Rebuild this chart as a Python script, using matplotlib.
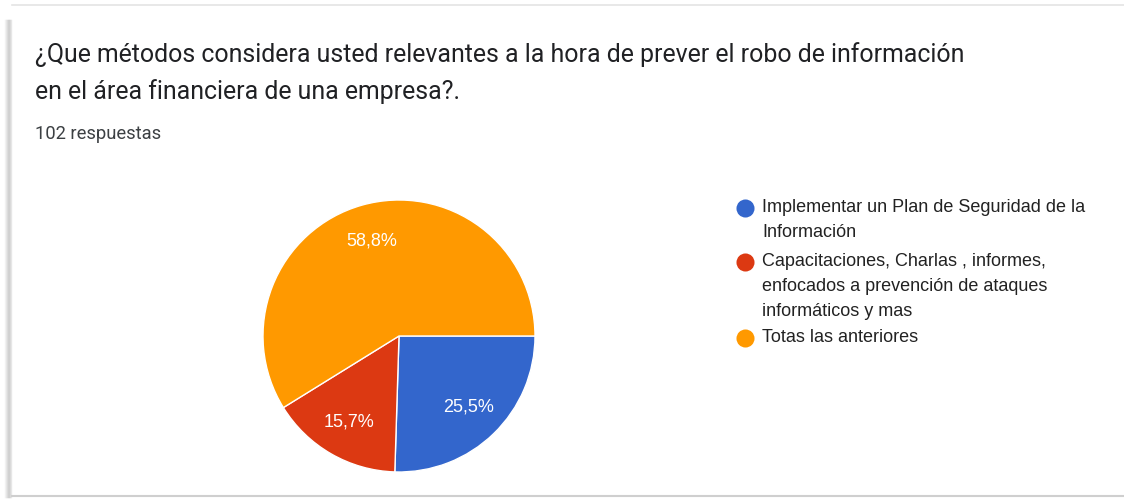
import matplotlib
matplotlib.use("Agg")
import matplotlib.pyplot as plt
from matplotlib.lines import Line2D

# ---- data ----
title_lines = ["¿Que métodos considera usted relevantes a la hora de prever el robo de información",
               "en el área financiera de una empresa?."]
subtitle = "102 respuestas"
categories = ["Implementar un Plan de Seguridad de la\nInformación",
              "Capacitaciones, Charlas , informes,\nenfocados a prevención de ataques\ninformáticos y mas",
              "Totas las anteriores"]
counts = [26, 16, 60]
pct_labels = ["25,5%", "15,7%", "58,8%"]
colors = ["#3366cc", "#dc3912", "#ff9900"]

W, H = 1124, 499
fig = plt.figure(figsize=(W / 100, H / 100), dpi=100)
fig.patch.set_facecolor("white")

def fx(px):
    return px / W

def fy(py):
    return 1 - py / H

# card border / shadow
for i, c in enumerate(["#f4f4f4", "#e9e9e9", "#dedede", "#d2d2d2", "#cfcfcf", "#d8d8d8", "#e6e6e6"]):
    fig.add_artist(Line2D([fx(5 + i), fx(5 + i)], [fy(20), fy(497)], color=c, lw=1.0,
                          transform=fig.transFigure))
fig.add_artist(Line2D([fx(12), fx(1124)], [fy(5), fy(5)], color="#e4e4e4", lw=1.2,
                      transform=fig.transFigure))
fig.add_artist(Line2D([fx(12), fx(1124)], [fy(496), fy(496)], color="#cfcfcf", lw=1.5,
                      transform=fig.transFigure))

# title
fig.text(fx(35), fy(62), title_lines[0], fontsize=17.9, family="Roboto", color="#202124", va="baseline")
fig.text(fx(35), fy(99), title_lines[1], fontsize=17.9, family="Roboto", color="#202124", va="baseline")
fig.text(fx(35), fy(139), subtitle, fontsize=13.2, family="Roboto", color="#3c4043", va="baseline")

# pie
cx, cy, r = 399, 336, 136
ax = fig.add_axes([fx(cx - r), fy(cy + r), (2 * r) / W, (2 * r) / H])
wedges, texts = ax.pie(counts, colors=colors, startangle=0, counterclock=False,
                       labels=pct_labels, labeldistance=0.73,
                       wedgeprops=dict(edgecolor="white", linewidth=1.0),
                       textprops=dict(color="white", fontsize=13, family="Liberation Sans"))
for t in texts:
    t.set_ha("center")
    t.set_va("center")
ax.set_xlim(-1, 1)
ax.set_ylim(-1, 1)
ax.set_aspect("equal")
ax.axis("off")

# legend (manual, marker aligned with first line)
leg_x_marker, leg_x_text = 745, 762
leg_y = [208, 262, 338]
line_h = 24.5
for w, lab, y in zip(wedges, categories, leg_y):
    fig.add_artist(Line2D([fx(leg_x_marker)], [fy(y)], marker="o", markersize=13,
                          markerfacecolor=w.get_facecolor(), markeredgecolor="none",
                          linestyle="none", transform=fig.transFigure))
    for k, line in enumerate(lab.split("\n")):
        fig.text(fx(leg_x_text), fy(y + k * line_h), line, fontsize=13, family="Liberation Sans",
                 color="#222222", va="center")

fig.savefig("out.png", dpi=100, facecolor="white")
